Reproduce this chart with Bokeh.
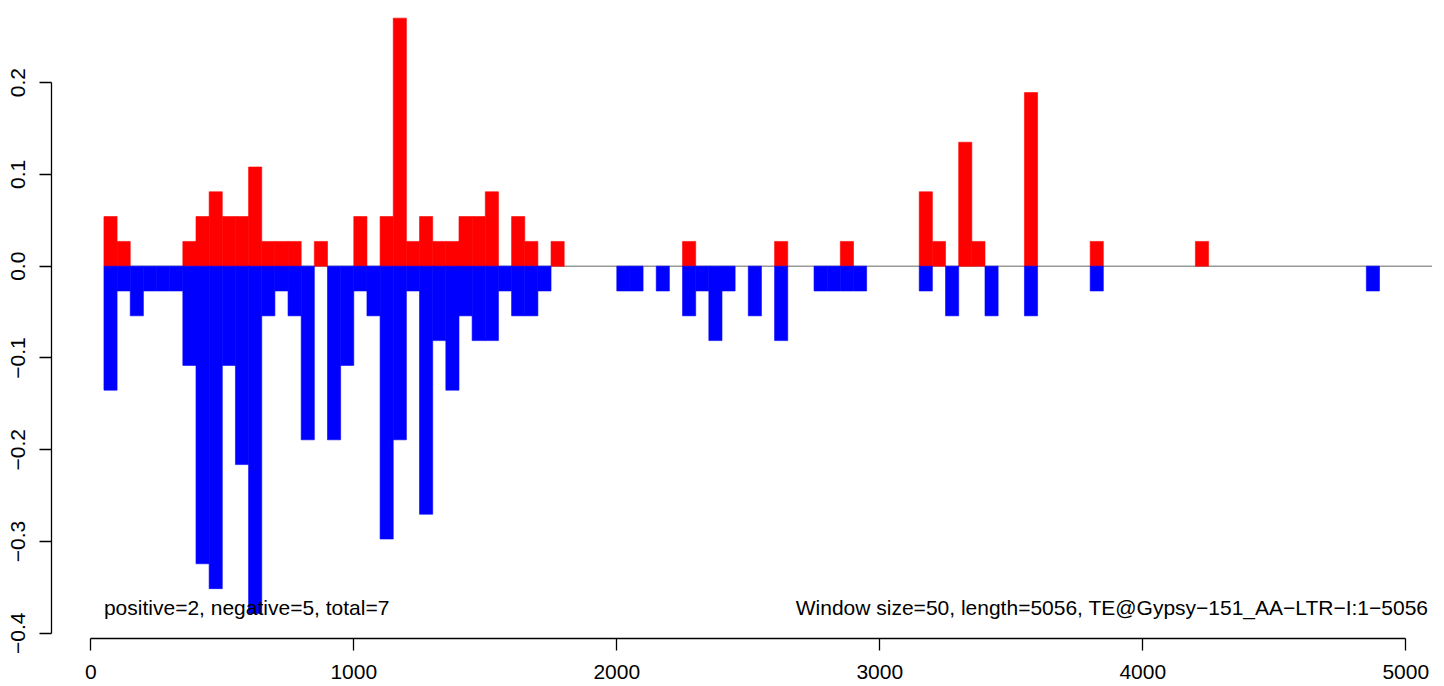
from bokeh.plotting import figure
from bokeh.models import Range1d, FixedTicker, Label
from bokeh.embed import file_html
from bokeh.resources import INLINE

# ---- data ----
window_size = 50
seq_length = 5056
# windows with positive-strand coverage: window start, value
pos_starts = [50, 100, 350, 400, 450, 500, 550, 600, 650, 700, 750, 850, 1000, 1100, 1150,
              1200, 1250, 1300, 1350, 1400, 1450, 1500, 1600, 1650, 1750, 2250, 2600, 2850,
              3150, 3200, 3300, 3350, 3550, 3800, 4200]
pos_values = [0.0541, 0.027, 0.027, 0.0541, 0.0811, 0.0541, 0.0541, 0.1081, 0.027, 0.027,
              0.027, 0.027, 0.0541, 0.0541, 0.2703, 0.027, 0.0541, 0.027, 0.027, 0.0541,
              0.0541, 0.0811, 0.0541, 0.027, 0.027, 0.027, 0.027, 0.027, 0.0811, 0.027,
              0.1351, 0.027, 0.1892, 0.027, 0.027]
# windows with negative-strand coverage
neg_starts = [50, 100, 150, 200, 250, 300, 350, 400, 450, 500, 550, 600, 650, 700, 750, 800,
              900, 950, 1000, 1050, 1100, 1150, 1200, 1250, 1300, 1350, 1400, 1450, 1500,
              1550, 1600, 1650, 1700, 2000, 2050, 2150, 2250, 2300, 2350, 2400, 2500, 2600,
              2750, 2800, 2850, 2900, 3150, 3250, 3400, 3550, 3800, 4850]
neg_values = [-0.1351, -0.027, -0.0541, -0.027, -0.027, -0.027, -0.1081, -0.3243, -0.3514,
              -0.1081, -0.2162, -0.3784, -0.0541, -0.027, -0.0541, -0.1892, -0.1892, -0.1081,
              -0.027, -0.0541, -0.2973, -0.1892, -0.027, -0.2703, -0.0811, -0.1351, -0.0541,
              -0.0811, -0.0811, -0.027, -0.0541, -0.0541, -0.027, -0.027, -0.027, -0.027,
              -0.0541, -0.027, -0.0811, -0.027, -0.0541, -0.0811, -0.027, -0.027, -0.027,
              -0.027, -0.027, -0.0541, -0.0541, -0.0541, -0.027, -0.027]
x_ticks = [0, 1000, 2000, 3000, 4000, 5000]
x_tick_labels = ["0", "1000", "2000", "3000", "4000", "5000"]
y_ticks = [-0.4, -0.3, -0.2, -0.1, 0.0, 0.1, 0.2]
y_tick_labels = ["\u22120.4", "\u22120.3", "\u22120.2", "\u22120.1", "0.0", "0.1", "0.2"]
left_note = "positive=2, negative=5, total=7"
right_note = "Window size=50, length=5056, TE@Gypsy\u2212151_AA\u2212LTR\u2212I:1\u22125056"

FONT = "Liberation Sans"
FS = "21px"

p = figure(width=1444, height=686, output_backend="svg", toolbar_location=None,
           x_range=Range1d(-149.4, 5147.2), y_range=Range1d(-0.40573, 0.27866),
           min_border_left=51, min_border_right=0, min_border_top=10, min_border_bottom=48)
p.background_fill_color = "white"
p.border_fill_color = "white"
p.outline_line_color = None
p.xgrid.grid_line_color = None
p.ygrid.grid_line_color = None

# zero line across all windows
all_starts = pos_starts + neg_starts
p.line(x=[min(all_starts), seq_length // window_size * window_size + window_size], y=[0, 0],
       line_color="#999999", line_width=1.5)

pos_right = [s + window_size for s in pos_starts]
neg_right = [s + window_size for s in neg_starts]
p.quad(left=pos_starts, right=pos_right, bottom=0, top=pos_values,
       fill_color="#FF0000", line_color="#FF0000", line_width=0.6)
p.quad(left=neg_starts, right=neg_right, bottom=neg_values, top=0,
       fill_color="#0000FF", line_color="#0000FF", line_width=0.6)

for ax in (p.xaxis[0], p.yaxis[0]):
    ax.axis_line_color = "black"
    ax.axis_line_width = 1.3
    ax.major_tick_line_color = "black"
    ax.major_tick_line_width = 1.3
    ax.minor_tick_line_color = None
    ax.major_tick_in = 0
    ax.major_tick_out = 12
    ax.major_label_text_font = FONT
    ax.major_label_text_font_size = FS
    ax.major_label_text_color = "black"

p.xaxis.ticker = FixedTicker(ticks=x_ticks)
p.xaxis.major_label_overrides = {t: l for t, l in zip(x_ticks, x_tick_labels)}
p.xaxis.bounds = (x_ticks[0], x_ticks[-1])
p.xaxis.major_label_standoff = 14

p.yaxis.ticker = FixedTicker(ticks=y_ticks)
p.yaxis.major_label_overrides = {t: l for t, l in zip(y_ticks, y_tick_labels)}
p.yaxis.bounds = (y_ticks[0], y_ticks[-1])
p.yaxis.major_label_orientation = "vertical"
p.yaxis.major_label_standoff = 14

p.add_layout(Label(x=pos_starts[0], y=-0.372, text=left_note, text_align="left",
                   text_baseline="middle", text_font=FONT, text_font_size=FS,
                   text_color="black"))
p.add_layout(Label(x=5086, y=-0.372, text=right_note, text_align="right",
                   text_baseline="middle", text_font=FONT, text_font_size=FS,
                   text_color="black"))

open("out.html", "w").write(file_html(p, INLINE))
